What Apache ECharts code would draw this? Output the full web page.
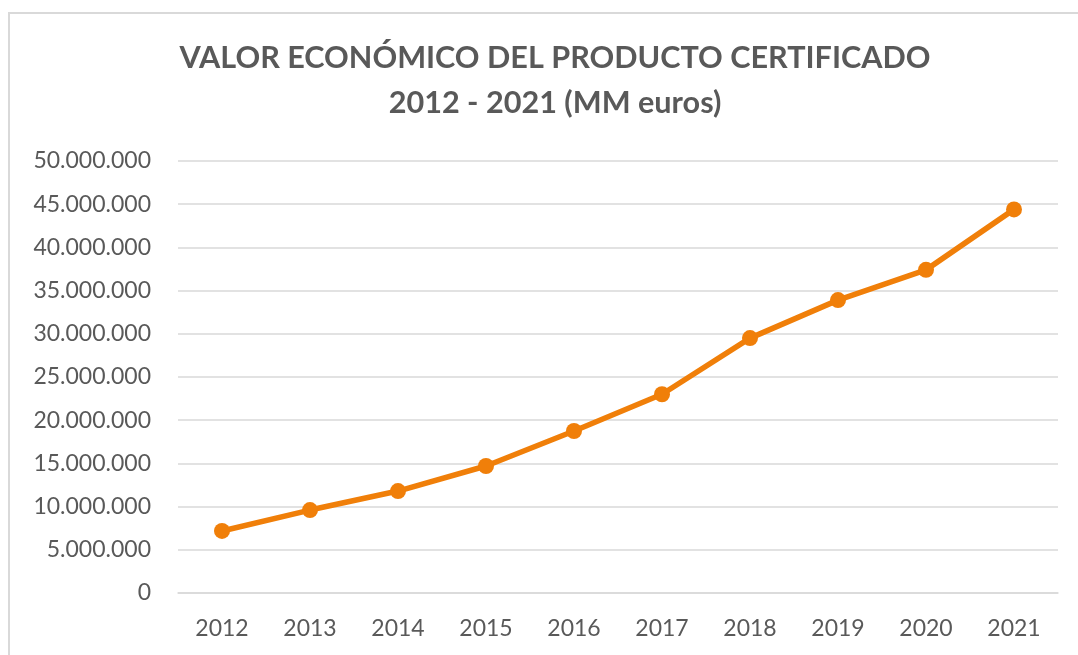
<!DOCTYPE html>
<html>
<head>
<meta charset="utf-8">
<script src="https://cdn.jsdelivr.net/npm/echarts@6/dist/echarts.min.js"></script>
<style>
  html, body { margin: 0; padding: 0; background: #fff; }
  #main { width: 1078px; height: 655px; }
</style>
</head>
<body>
<div id="main"></div>
<script>
var years = ['2012', '2013', '2014', '2015', '2016', '2017', '2018', '2019', '2020', '2021'];
var valores = [7180000, 9600000, 11800000, 14700000, 18750000, 23000000, 29500000, 33900000, 37400000, 44400000];

function puntos(v) {
    return String(v).replace(/\B(?=(\d{3})+(?!\d))/g, '.');
}

var myChart = echarts.init(document.getElementById('main'));

var option = {
    backgroundColor: '#fff',
    title: {
        text: 'VALOR ECONÓMICO DEL PRODUCTO CERTIFICADO\n2012 - 2021 (MM euros)',
        left: 550,
        top: 31,
        textAlign: 'center',
        textStyle: {
            fontFamily: 'Lato',
            fontWeight: 'bold',
            fontSize: 30.6,
            lineHeight: 45,
            color: '#595959'
        }
    },
    graphic: [{
        type: 'rect',
        shape: { x: 9, y: 13, width: 1100, height: 700 },
        style: { fill: 'none', stroke: '#d9d9d9', lineWidth: 2 },
        silent: true
    }],
    grid: { left: 178, right: 20, top: 161, bottom: 62 },
    xAxis: {
        type: 'category',
        data: years,
        axisLine: { lineStyle: { color: '#d9d9d9', width: 1.5 } },
        axisTick: { show: false },
        axisLabel: { color: '#595959', fontFamily: 'Lato', fontSize: 23, margin: 24 }
    },
    yAxis: {
        type: 'value',
        min: 0,
        max: 50000000,
        interval: 5000000,
        axisLine: { show: false },
        axisTick: { show: false },
        splitLine: { lineStyle: { color: '#d9d9d9', width: 1.5 } },
        axisLabel: {
            color: '#595959', fontFamily: 'Lato', fontSize: 23, margin: 27,
            formatter: function (v) { return puntos(v); }
        }
    },
    series: [{
        type: 'line',
        data: valores,
        symbol: 'circle',
        symbolSize: 16,
        lineStyle: { color: '#f07f09', width: 5.5 },
        itemStyle: { color: '#f07f09' },
        animation: false
    }]
};

myChart.setOption(option);
</script>
</body>
</html>
